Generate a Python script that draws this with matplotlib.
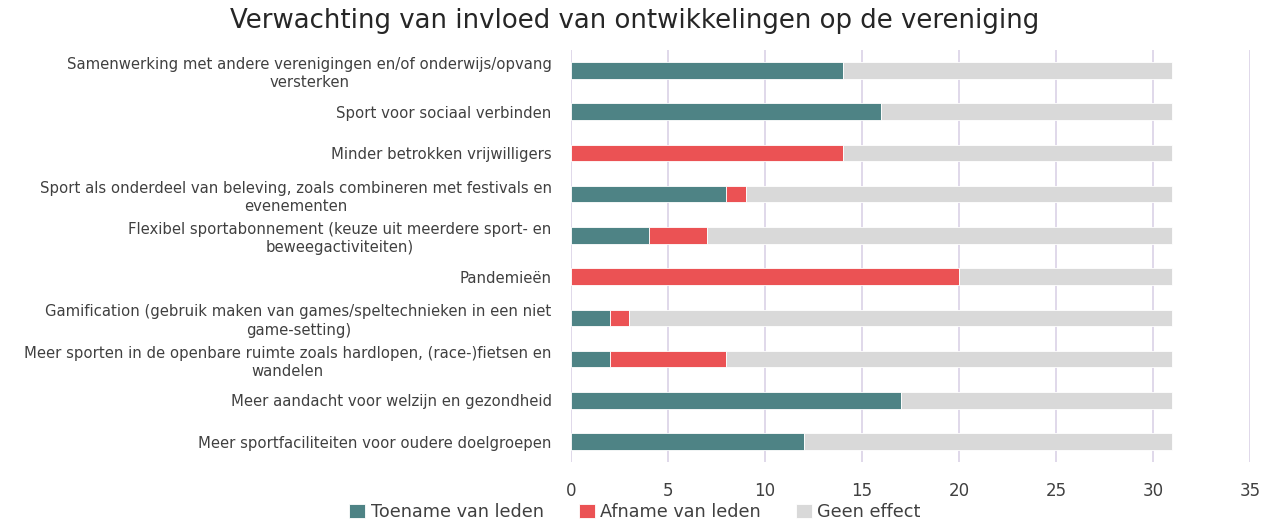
import matplotlib
matplotlib.use("Agg")
import matplotlib.pyplot as plt
import numpy as np

categories = [
    "Samenwerking met andere verenigingen en/of onderwijs/opvang\nversterken",
    "Sport voor sociaal verbinden",
    "Minder betrokken vrijwilligers",
    "Sport als onderdeel van beleving, zoals combineren met festivals en\nevenementen",
    "Flexibel sportabonnement (keuze uit meerdere sport- en\nbeweegactiviteiten)",
    "Pandemieën",
    "Gamification (gebruik maken van games/speltechnieken in een niet\ngame-setting)",
    "Meer sporten in de openbare ruimte zoals hardlopen, (race-)fietsen en\nwandelen",
    "Meer aandacht voor welzijn en gezondheid",
    "Meer sportfaciliteiten voor oudere doelgroepen",
]
toename = [14, 16, 0, 8, 4, 0, 2, 2, 17, 12]
afname = [0, 0, 14, 1, 3, 20, 1, 6, 0, 0]
geen = [17, 15, 17, 22, 24, 11, 28, 23, 14, 19]
series_names = ["Toename van leden", "Afname van leden", "Geen effect"]
colors = ["#4E8385", "#EB5254", "#D9D9D9"]
xticks = [0, 5, 10, 15, 20, 25, 30, 35]

plt.rcParams['font.family'] = ['DejaVu Sans']

fig = plt.figure(figsize=(12.7, 5.24), dpi=100)
ax = fig.add_axes([0.4496, 0.118, 0.5347, 0.787])

y = np.arange(len(categories))
t = np.array(toename, dtype=float)
a = np.array(afname, dtype=float)
g = np.array(geen, dtype=float)
h = 0.4
ax.barh(y, t, height=h, color=colors[0], edgecolor="white", linewidth=0.6, label=series_names[0], zorder=3)
ax.barh(y, a, left=t, height=h, color=colors[1], edgecolor="white", linewidth=0.6, label=series_names[1], zorder=3)
ax.barh(y, g, left=t + a, height=h, color=colors[2], edgecolor="white", linewidth=0.6, label=series_names[2], zorder=3)

ax.set_ylim(len(categories) - 0.5, -0.5)
ax.set_xlim(0, 35)
ax.set_xticks(xticks)
ax.set_xticklabels([str(v) for v in xticks], fontsize=12, color="#404040")
ax.set_yticks(y)
ax.set_yticklabels(categories, fontsize=10.7, color="#404040", multialignment="center",
                   linespacing=1.3)
ax.tick_params(axis="both", length=0)
ax.tick_params(axis="x", pad=14)
ax.tick_params(axis="y", pad=14)
ax.grid(axis="x", color="#DDD5E8", linewidth=1.3, zorder=0)
for s in ax.spines.values():
    s.set_visible(False)

fig.suptitle("Verwachting van invloed van ontwikkelingen op de vereniging",
             fontsize=18.7, color="#262626", x=0.5, y=0.985)

handles, labels = ax.get_legend_handles_labels()
fig.legend(handles, labels, loc="lower center", bbox_to_anchor=(0.5, -0.025), ncol=3,
           frameon=False, fontsize=12.7, handlelength=0.9, handleheight=0.9,
           handletextpad=0.3, columnspacing=2.0, labelcolor="#404040")

fig.savefig("out.png", dpi=100)
